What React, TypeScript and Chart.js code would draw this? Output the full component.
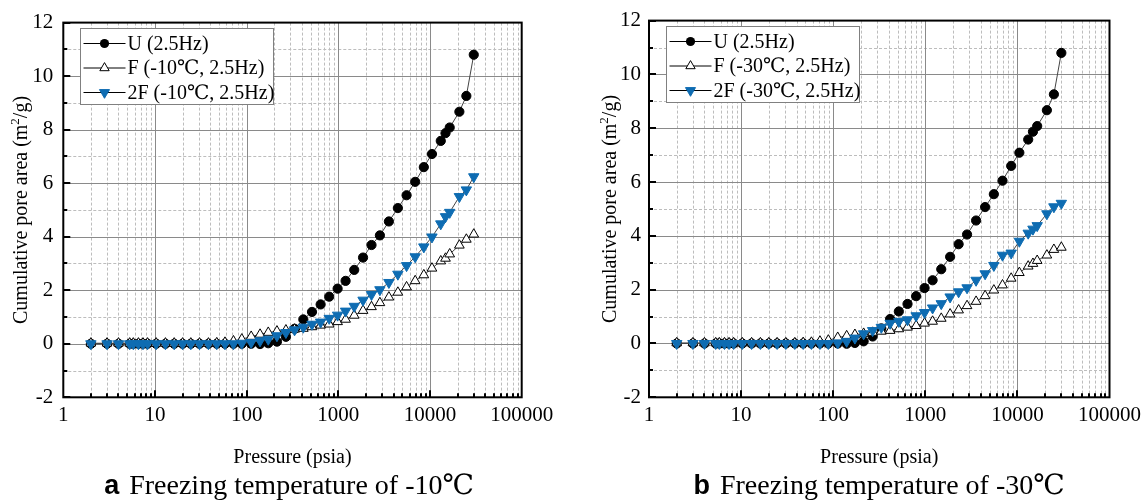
import React, { useEffect, useRef } from 'react';
import { Chart, registerables } from 'chart.js';

Chart.register(...registerables);

// ---- data ----
const PRESSURE_PSIA = [
  2, 3, 4, 5.3, 5.8, 6.6, 7.4, 8.3, 10.3, 13, 16.2, 20, 24.6, 30.6, 38.3, 47.2, 58, 71.8, 88.5,
  112, 140, 172, 214, 268, 333,
  415, 516, 641, 795, 982, 1200, 1490, 1860, 2300, 2840, 3560, 4460, 5550, 6890, 8560, 10500,
  13100, 14750, 16400, 20900, 24900, 30000,
];

const U_AREA = [
  0, 0, 0, 0, 0, 0, 0, 0, 0, 0, 0, 0, 0, 0, 0, 0, 0, 0, 0,
  0, -0.01, 0.02, 0.08, 0.26, 0.56,
  0.91, 1.19, 1.47, 1.76, 2.06, 2.35, 2.76, 3.22, 3.69, 4.05, 4.57, 5.07, 5.55, 6.05, 6.6, 7.09,
  7.58, 7.87, 8.08, 8.67, 9.26, 10.8,
];

const F10_AREA = [
  0.02, 0.02, 0.02, 0.02, 0.02, 0.02, 0.02, 0.02, 0.02, 0.02, 0.02, 0.02, 0.02, 0.02, 0.02, 0.03, 0.05, 0.1, 0.17,
  0.27, 0.35, 0.42, 0.47, 0.51, 0.54,
  0.57, 0.63, 0.69, 0.73, 0.82, 0.91, 1.06, 1.24, 1.38, 1.53, 1.74, 1.92, 2.12, 2.35, 2.57, 2.82,
  3.09, 3.19, 3.35, 3.68, 3.9, 4.09,
];

const F2_10_AREA = [
  0, 0, 0, 0, 0, 0, 0, 0, 0, 0, 0, 0, 0, 0, 0, 0, 0, 0, 0.02,
  0.05, 0.11, 0.17, 0.3, 0.42, 0.52,
  0.62, 0.73, 0.81, 0.95, 1.07, 1.22, 1.4, 1.63, 1.84, 2.02, 2.29, 2.6, 2.92, 3.25, 3.62, 3.99,
  4.48, 4.75, 4.91, 5.5, 5.75, 6.24,
];

const F30_AREA = [
  0.02, 0.02, 0.02, 0.02, 0.02, 0.02, 0.02, 0.02, 0.02, 0.02, 0.02, 0.02, 0.02, 0.02, 0.02, 0.03, 0.04, 0.08, 0.12,
  0.22, 0.28, 0.33, 0.37, 0.41, 0.45,
  0.48, 0.54, 0.6, 0.66, 0.75, 0.82, 0.93, 1.09, 1.24, 1.4, 1.56, 1.77, 1.98, 2.17, 2.42, 2.63,
  2.87, 2.97, 3.08, 3.28, 3.49, 3.57,
];

const F2_30_AREA = [
  0, 0, 0, 0, 0, 0, 0, 0, 0, 0, 0, 0, 0, 0, 0, 0, 0, 0, 0,
  0.02, 0.08, 0.2, 0.36, 0.48, 0.6,
  0.75, 0.82, 0.88, 1.03, 1.15, 1.32, 1.48, 1.73, 1.92, 2.07, 2.35, 2.59, 2.9, 3.28, 3.36, 3.8,
  4.1, 4.25, 4.38, 4.82, 5.08, 5.21,
];

const X_TICKS = [1, 10, 100, 1000, 10000, 100000];
const Y_TICKS = [-2, 0, 2, 4, 6, 8, 10, 12];
const Y_MINOR = [-1, 1, 3, 5, 7, 9, 11];
const LEGEND_A = ['U (2.5Hz)', 'F (-10℃, 2.5Hz)', '2F (-10℃, 2.5Hz)'];
const LEGEND_B = ['U (2.5Hz)', 'F (-30℃, 2.5Hz)', '2F (-30℃, 2.5Hz)'];
const X_TITLE = 'Pressure (psia)';
const Y_TITLE_MAIN = 'Cumulative pore area (m';
const Y_TITLE_SUP = '2';
const Y_TITLE_END = '/g)';

// ---- styles ----
const SERIF = "'Liberation Serif', 'Times New Roman', 'DejaVu Serif', serif";
const SANS = "'Liberation Sans', Arial, sans-serif";
const BLUE = 'rgb(14, 108, 178)';
const MAJOR_GRID = '#8a8a8a';
const MINOR_GRID = '#bdbdbd';
const H = 503;

type PanelCfg = {
  left: number;
  width: number;
  axisWidth: number;
  padRight: number;
  padTop: number;
  yLabelPad: number;
  yTitleBaseX: number;
  labels: string[];
  fVals: number[];
  f2Vals: number[];
};

function drawMarker(ctx: CanvasRenderingContext2D, kind: number, x: number, y: number) {
  ctx.save();
  ctx.lineWidth = 1;
  if (kind === 0) {
    ctx.beginPath();
    ctx.arc(x, y, 4.6, 0, Math.PI * 2);
    ctx.fillStyle = '#000';
    ctx.fill();
  } else {
    const r = kind === 1 ? 5.4 : 5.8;
    const a0 = kind === 1 ? 0 : Math.PI;
    ctx.beginPath();
    for (let k = 0; k < 3; k++) {
      const a = a0 + (k * 2 * Math.PI) / 3;
      const px = x + Math.sin(a) * r;
      const py = y - Math.cos(a) * r;
      if (k === 0) ctx.moveTo(px, py);
      else ctx.lineTo(px, py);
    }
    ctx.closePath();
    ctx.fillStyle = kind === 1 ? '#fff' : BLUE;
    ctx.strokeStyle = kind === 1 ? '#000' : BLUE;
    ctx.fill();
    ctx.stroke();
  }
  ctx.restore();
}

function makeDecor(cfg: PanelCfg) {
  return {
    id: 'poreDecor',
    beforeDatasetsDraw(chart: any) {
      const { ctx, chartArea: a, scales } = chart;
      const xs = scales.x;
      const ys = scales.y;
      ctx.save();
      ctx.lineWidth = 1;
      // minor grid
      ctx.strokeStyle = MINOR_GRID;
      ctx.setLineDash([3, 2]);
      ctx.beginPath();
      for (let i = 0; i < X_TICKS.length - 1; i++) {
        for (let k = 2; k <= 9; k++) {
          const px = Math.round(xs.getPixelForValue(X_TICKS[i] * k)) + 0.5;
          ctx.moveTo(px, a.top);
          ctx.lineTo(px, a.bottom);
        }
      }
      for (const v of Y_MINOR) {
        const py = Math.round(ys.getPixelForValue(v)) + 0.5;
        ctx.moveTo(a.left, py);
        ctx.lineTo(a.right, py);
      }
      ctx.stroke();
      // major grid
      ctx.setLineDash([]);
      ctx.strokeStyle = MAJOR_GRID;
      ctx.beginPath();
      for (let i = 1; i < X_TICKS.length - 1; i++) {
        const px = Math.round(xs.getPixelForValue(X_TICKS[i])) + 0.5;
        ctx.moveTo(px, a.top);
        ctx.lineTo(px, a.bottom);
      }
      for (let i = 1; i < Y_TICKS.length - 1; i++) {
        const py = Math.round(ys.getPixelForValue(Y_TICKS[i])) + 0.5;
        ctx.moveTo(a.left, py);
        ctx.lineTo(a.right, py);
      }
      ctx.stroke();
      ctx.restore();
    },
    afterDraw(chart: any) {
      const { ctx, chartArea: a, scales } = chart;
      const xs = scales.x;
      const ys = scales.y;
      ctx.save();
      // inward ticks
      ctx.strokeStyle = '#000';
      ctx.lineWidth = 2;
      ctx.beginPath();
      for (let i = 0; i < X_TICKS.length - 1; i++) {
        for (let k = 1; k <= 9; k++) {
          if (i === 0 && k === 1) continue;
          const px = Math.round(xs.getPixelForValue(X_TICKS[i] * k));
          const len = k === 1 ? 7 : 4;
          ctx.moveTo(px, a.bottom);
          ctx.lineTo(px, a.bottom - len);
        }
      }
      for (const v of Y_TICKS) {
        const py = Math.round(ys.getPixelForValue(v));
        ctx.moveTo(a.left, py);
        ctx.lineTo(a.left + 7, py);
      }
      for (const v of Y_MINOR) {
        const py = Math.round(ys.getPixelForValue(v));
        ctx.moveTo(a.left, py);
        ctx.lineTo(a.left + 4, py);
      }
      ctx.stroke();
      // frame
      ctx.strokeRect(a.left, a.top, a.right - a.left, a.bottom - a.top);

      // legend
      const bx = Math.round(a.left + 17) + 0.5;
      const by = Math.round(a.top + 5) + 0.5;
      const bw = 193;
      const bh = 76;
      ctx.fillStyle = '#fff';
      ctx.fillRect(bx, by, bw, bh);
      ctx.lineWidth = 1;
      ctx.strokeStyle = '#808080';
      ctx.strokeRect(bx, by, bw, bh);
      const rows = [15, 39.5, 64];
      ctx.font = `20px ${SERIF}`;
      ctx.textBaseline = 'middle';
      ctx.textAlign = 'left';
      cfg.labels.forEach((lab, i) => {
        const ry = by + rows[i];
        ctx.strokeStyle = '#000';
        ctx.lineWidth = 1;
        ctx.beginPath();
        ctx.moveTo(bx + 3, ry);
        ctx.lineTo(bx + 45, ry);
        ctx.stroke();
        drawMarker(ctx, i, bx + 24, ry);
        ctx.fillStyle = '#000';
        ctx.fillText(lab, bx + 47, ry + 1);
      });

      // x title
      ctx.fillStyle = '#000';
      ctx.font = `20px ${SERIF}`;
      ctx.textAlign = 'center';
      ctx.textBaseline = 'alphabetic';
      ctx.fillText(X_TITLE, (a.left + a.right) / 2, 463);

      // y title (rotated, with superscript)
      ctx.save();
      ctx.translate(cfg.yTitleBaseX, (a.top + a.bottom) / 2);
      ctx.rotate(-Math.PI / 2);
      ctx.font = `20px ${SERIF}`;
      const w1 = ctx.measureText(Y_TITLE_MAIN).width;
      const w3 = ctx.measureText(Y_TITLE_END).width;
      ctx.font = `13px ${SERIF}`;
      const w2 = ctx.measureText(Y_TITLE_SUP).width;
      let sx = -(w1 + w2 + w3) / 2;
      ctx.textAlign = 'left';
      ctx.font = `20px ${SERIF}`;
      ctx.fillText(Y_TITLE_MAIN, sx, 0);
      sx += w1;
      ctx.font = `13px ${SERIF}`;
      ctx.fillText(Y_TITLE_SUP, sx, -8);
      sx += w2;
      ctx.font = `20px ${SERIF}`;
      ctx.fillText(Y_TITLE_END, sx, 0);
      ctx.restore();

      ctx.restore();
    },
  };
}

function PorePanel({ cfg }: { cfg: PanelCfg }) {
  const ref = useRef<HTMLCanvasElement | null>(null);
  useEffect(() => {
    const canvas = ref.current;
    if (!canvas) return;
    const pts = (vals: number[]) => PRESSURE_PSIA.map((p, i) => ({ x: p, y: vals[i] }));
    const chart = new Chart(canvas, {
      type: 'scatter',
      data: {
        datasets: [
          {
            label: cfg.labels[0],
            data: pts(U_AREA),
            showLine: true,
            borderColor: '#444',
            borderWidth: 1,
            pointStyle: 'circle',
            pointRadius: 4.6,
            pointBackgroundColor: '#000',
            pointBorderColor: '#000',
            pointBorderWidth: 1,
            order: 2,
          },
          {
            label: cfg.labels[1],
            data: pts(cfg.fVals),
            showLine: true,
            borderColor: '#444',
            borderWidth: 1,
            pointStyle: 'triangle',
            pointRadius: 5.6,
            pointBackgroundColor: '#fff',
            pointBorderColor: '#000',
            pointBorderWidth: 1,
            order: 1,
          },
          {
            label: cfg.labels[2],
            data: pts(cfg.f2Vals),
            showLine: true,
            borderColor: '#444',
            borderWidth: 1,
            pointStyle: 'triangle',
            pointRotation: 180,
            pointRadius: 6,
            pointBackgroundColor: BLUE,
            pointBorderColor: BLUE,
            pointBorderWidth: 1,
            order: 0,
          },
        ],
      } as any,
      options: {
        animation: false,
        responsive: false,
        maintainAspectRatio: false,
        layout: { padding: { top: cfg.padTop, right: cfg.padRight, left: 0, bottom: 0 } },
        plugins: { legend: { display: false }, tooltip: { enabled: false } },
        scales: {
          x: {
            type: 'logarithmic',
            min: 1,
            max: 100000,
            grid: { display: false, drawTicks: false },
            border: { display: false },
            afterBuildTicks: (axis: any) => {
              axis.ticks = X_TICKS.map((v) => ({ value: v }));
            },
            afterFit: (axis: any) => {
              axis.height = H - 397.3;
            },
            ticks: {
              autoSkip: false,
              maxRotation: 0,
              padding: 6,
              color: '#000',
              font: { family: SERIF, size: 21 },
              callback: (v: any) => String(v),
            },
          },
          y: {
            type: 'linear',
            min: -2,
            max: 12,
            grid: { display: false, drawTicks: false },
            border: { display: false },
            afterBuildTicks: (axis: any) => {
              axis.ticks = Y_TICKS.map((v) => ({ value: v }));
            },
            afterFit: (axis: any) => {
              axis.width = cfg.axisWidth;
            },
            ticks: {
              padding: cfg.yLabelPad,
              color: '#000',
              font: { family: SERIF, size: 21 },
              callback: (v: any) => String(v),
            },
          },
        },
      } as any,
      plugins: [makeDecor(cfg)],
    });
    return () => chart.destroy();
  }, [cfg]);
  return (
    <canvas
      ref={ref}
      width={cfg.width}
      height={H}
      style={{ position: 'absolute', left: cfg.left, top: 0, width: cfg.width, height: H, display: 'block' }}
    />
  );
}

const PANEL_A: PanelCfg = {
  left: 0,
  width: 575,
  axisWidth: 63.3,
  padRight: 575 - 521.7,
  padTop: 18,
  yLabelPad: 10,
  yTitleBaseX: 27,
  labels: LEGEND_A,
  fVals: F10_AREA,
  f2Vals: F2_10_AREA,
};

const PANEL_B: PanelCfg = {
  left: 575,
  width: 572,
  axisWidth: 649 - 575,
  padRight: 1147 - 1111,
  padTop: 17.5,
  yLabelPad: 8,
  yTitleBaseX: 41,
  labels: LEGEND_B,
  fVals: F30_AREA,
  f2Vals: F2_30_AREA,
};

function Caption({ center, letter, text }: { center: number; letter: string; text: string }) {
  return (
    <div
      style={{
        position: 'absolute',
        left: center - 300,
        width: 600,
        top: 471,
        height: 30,
        textAlign: 'center',
        whiteSpace: 'nowrap',
        lineHeight: '28px',
        fontSize: 28,
        color: '#000',
      }}
    >
      <span style={{ fontFamily: SANS, fontWeight: 'bold', fontSize: 27, marginRight: 10 }}>{letter}</span>
      <span style={{ fontFamily: SERIF }}>{text}</span>
    </div>
  );
}

export default function App() {
  return (
    <div style={{ position: 'absolute', left: 0, top: 0, width: 1147, height: 503, background: '#fff', overflow: 'hidden' }}>
      <PorePanel cfg={PANEL_A} />
      <PorePanel cfg={PANEL_B} />
      <Caption center={289} letter="a" text="Freezing temperature of -10℃" />
      <Caption center={879} letter="b" text="Freezing temperature of -30℃" />
    </div>
  );
}
